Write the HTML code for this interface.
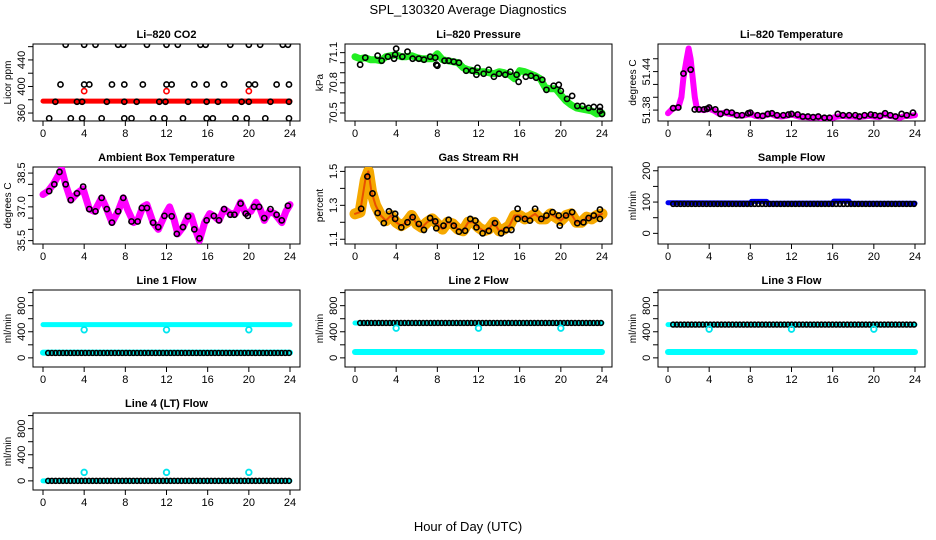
<!DOCTYPE html>
<html><head><meta charset="utf-8">
<style>
html,body{margin:0;padding:0;background:#fff;}
svg{display:block;font-family:"Liberation Sans",Arial,sans-serif;}
</style></head>
<body>
<svg id="chart" width="936" height="540" viewBox="0 0 936 540" xmlns="http://www.w3.org/2000/svg">
<text x="468" y="14" text-anchor="middle" font-size="13">SPL_130320  Average Diagnostics</text>
<text x="468" y="531" text-anchor="middle" font-size="13">Hour of Day (UTC)</text>
</svg>
<script>
// ---- data ----
const xTicks=[0,4,8,12,16,20,24];
// CO2
const co2BandX=[0,24], co2BandY=[378,378];
const co2RedX=[4,12,20], co2RedY=[393,393,393];
const co2X=[2.2,4,5.1,7.3,7.8,10.1,12,13.1,15.3,15.8,18.2,20,21.1,23.3,23.8, 1.7,4,4.5,6.7,7.9,9.7,12,12.5,14.7,15.9,17.6,20,20.6,22.7,23.9, 1.2,3.3,3.8,6.2,7.9,9.1,11.3,11.9,14.1,15.9,17,19.3,20,22.1,23.9, 0.6,2.7,3.8,5.7,7.9,8.6,10.7,11.8,13.6,15.9,16.5,18.7,19.8,21.6,23.9];
const co2Y=[463,463,463,463,463,463,463,463,463,463,463,463,463,463,463, 403,403,403,403,403,403,403,403,403,403,403,403,403,403,403, 377,377,377,377,377,377,377,377,377,377,377,377,377,377,377, 352,352,352,352,352,352,352,352,352,352,352,352,352,352,352];
// Pressure
const presBandX=[0,0.5,1,1.5,2,2.5,3,3.5,4,4.5,5,5.5,6,6.5,7,7.5,8,8.5,9,9.5,10,10.5,11,11.5,12,12.5,13,13.5,14,14.5,15,15.5,16,16.5,17,17.5,18,18.5,19,19.5,20,20.5,21,21.5,22,22.5,23,23.5,24];
const presBandY=[71.06,71.04,71.05,71.03,71.03,71.02,71.06,71.07,71.08,71.06,71.06,71.07,71.05,71.04,71.04,71.04,71.09,71.03,71.02,71.01,71.00,70.95,70.93,70.92,70.91,70.91,70.90,70.89,70.91,70.90,70.88,70.84,70.92,70.91,70.89,70.87,70.84,70.75,70.74,70.74,70.68,70.62,70.58,70.55,70.54,70.53,70.52,70.49,70.50];
const presX=[0.5,1,2.2,2.6,3.2,3.8,3.9,4,4.6,5.1,5.6,6.2,6.7,7.3,7.8,7.9,8,8.7,9.1,9.6,10.1,10.8,11.4,11.8,11.9,12.5,13,13.5,14,14.6,15.1,15.7,15.9,16.6,17.1,17.6,18.2,18.6,19.3,19.8,20,20.6,21.1,21.6,22.1,22.7,23.2,23.8,23.8,24];
const presY=[70.98,71.05,71.07,71.02,71.06,71.04,71.08,71.14,71.06,71.11,71.04,71.04,71.03,71.06,71.05,70.98,70.97,71.02,71.02,71.01,71.00,70.92,70.92,70.88,70.95,70.89,70.93,70.86,70.89,70.88,70.91,70.88,70.81,70.86,70.87,70.85,70.83,70.73,70.77,70.78,70.72,70.64,70.67,70.57,70.57,70.55,70.56,70.56,70.52,70.49];
// Li-820 temperature
const tempBandX=[0,0.5,1,1.3,1.5,1.8,2,2.2,2.4,2.6,2.8,3,3.5,4,4.5,5,5.5,6,6.5,7,7.5,8,8.5,9,9.5,10,10.5,11,11.5,12,12.5,13,13.5,14,14.5,15,15.5,16,16.5,17,17.5,18,18.5,19,19.5,20,20.5,21,21.5,22,22.5,23,23.5,24];
const tempBandY=[51.375,51.383,51.384,51.40,51.43,51.458,51.476,51.46,51.43,51.40,51.383,51.381,51.380,51.382,51.379,51.374,51.376,51.374,51.373,51.371,51.372,51.374,51.371,51.370,51.372,51.374,51.371,51.370,51.371,51.373,51.371,51.369,51.369,51.368,51.369,51.367,51.367,51.368,51.370,51.371,51.370,51.370,51.369,51.370,51.371,51.370,51.369,51.373,51.371,51.370,51.368,51.371,51.371,51.372];
const tempX=[0.5,1,1.5,2.2,2.6,3,3.5,3.8,4,4.6,5.1,5.7,6.2,6.7,7.2,7.8,8,8.7,9.2,9.7,10.1,10.6,11.2,11.7,12,12.6,13.1,13.6,14.1,14.6,15.2,15.7,16.5,17,17.6,18.2,18.6,19.1,19.7,20.1,20.6,21.1,21.6,22.1,22.7,23.2,23.8];
const tempY=[51.383,51.384,51.437,51.443,51.381,51.381,51.381,51.382,51.384,51.381,51.374,51.377,51.376,51.372,51.372,51.375,51.376,51.372,51.371,51.374,51.375,51.372,51.372,51.373,51.374,51.373,51.370,51.370,51.369,51.370,51.368,51.368,51.374,51.372,51.372,51.372,51.370,51.372,51.373,51.372,51.371,51.375,51.372,51.370,51.374,51.372,51.376];
// Ambient box temperature
const ambBandX=[0,0.5,1,1.5,1.8,2.2,2.7,3.3,3.9,4.5,5,5.7,6.2,6.7,7.3,7.8,8.2,8.8,9.2,9.7,10.1,10.7,11.2,11.8,12.3,12.7,13.1,13.6,14.1,14.4,14.8,15.2,15.7,16.2,16.6,17.1,17.6,18.2,18.7,19.2,19.7,20.2,20.7,21.1,21.5,22,22.5,23.2,23.6,24];
const ambBandY=[37.55,37.7,38.0,38.4,38.7,38.0,37.3,37.6,37.8,36.9,36.8,37.4,36.9,36.3,36.8,37.4,36.9,36.3,36.4,37.0,37.1,36.3,36.0,36.6,37.0,36.5,35.8,36.1,36.6,36.6,36.0,35.5,36.3,36.7,36.6,36.4,36.9,36.7,36.7,37.2,36.7,36.8,37.2,36.9,36.4,36.8,36.7,36.3,36.8,37.1];
const ambX=[0.6,1.1,1.6,2.2,2.7,3.3,3.9,4.5,5.1,5.7,6.2,6.7,7.3,7.8,8.6,9.2,9.6,10.1,10.7,11.2,11.8,12.5,13,13.6,14.1,14.7,15.2,15.9,16.6,17.1,17.6,18.2,18.6,19.2,19.7,19.9,20.5,21,21.5,22.1,22.7,23.2,23.8];
const ambY=[37.7,38.0,38.55,38.0,37.3,37.6,37.9,36.9,36.8,37.4,36.9,36.3,36.8,37.4,36.35,36.35,36.95,36.95,36.3,36.1,36.6,36.58,35.8,36.1,36.58,36.0,35.6,36.4,36.6,36.4,36.9,36.65,36.65,37.15,36.7,36.6,37.0,37.0,36.5,36.9,36.65,36.4,37.05];
// Gas stream RH
const rhBandX=[0,0.5,1,1.3,1.6,2,2.5,3,3.5,4,4.5,5,5.5,6,6.5,7,7.5,8,8.5,9,9.5,10,10.5,11,11.5,12,12.5,13,13.5,14,14.5,15,15.5,16,16.5,17,17.5,18,18.5,19,19.5,20,20.5,21,21.5,22,22.5,23,23.5,24];
const rhBandY=[1.25,1.26,1.45,1.5,1.38,1.3,1.24,1.21,1.24,1.2,1.18,1.2,1.24,1.19,1.17,1.2,1.22,1.19,1.16,1.2,1.19,1.16,1.15,1.2,1.2,1.17,1.15,1.16,1.2,1.15,1.16,1.18,1.24,1.24,1.22,1.23,1.25,1.22,1.22,1.25,1.23,1.21,1.24,1.25,1.2,1.2,1.23,1.22,1.24,1.25];
const rhX=[0.6,1.2,1.7,2.2,2.8,3.3,3.9,3.9,4.5,5.1,5.6,6.2,6.7,7.3,7.8,7.9,8.6,9.1,9.6,10.1,10.7,11.2,11.7,11.8,12.4,13,13.6,14.2,14.7,15.2,15.8,15.8,16.5,17,17.5,18.1,18.6,19.2,19.8,19.9,20.5,21.1,21.6,22.2,22.7,23.2,23.8,23.8];
const rhY=[1.28,1.47,1.37,1.255,1.195,1.265,1.25,1.22,1.17,1.2,1.23,1.19,1.155,1.225,1.205,1.165,1.18,1.215,1.18,1.145,1.15,1.22,1.21,1.17,1.135,1.15,1.195,1.135,1.155,1.155,1.28,1.22,1.22,1.21,1.28,1.22,1.24,1.26,1.24,1.18,1.24,1.26,1.195,1.2,1.225,1.24,1.275,1.22];
// Sample flow
const sfBandX=[0,8,8.1,9.6,9.7,16,16.1,17.6,17.7,24];
const sfBandY=[98,97,102,102,96,97,103,103,96,96];
const sfLevel=[94];
// Line flows: black circle times (every ~20 min)
const flowT=[0.5,0.86,1.22,1.58,1.94,2.3,2.66,3.02,3.38,3.74,4.1,4.46,4.82,5.18,5.54,5.9,6.26,6.62,6.98,7.34,7.7,8.06,8.42,8.78,9.14,9.5,9.86,10.22,10.58,10.94,11.3,11.66,12.02,12.38,12.74,13.1,13.46,13.82,14.18,14.54,14.9,15.26,15.62,15.98,16.34,16.7,17.06,17.42,17.78,18.14,18.5,18.86,19.22,19.58,19.94,20.3,20.66,21.02,21.38,21.74,22.1,22.46,22.82,23.18,23.54,23.9];
const dipX=[4,12,20];
const line1Black=[75], line1High=[510], line1Low=[80], line1Dip=[430,430,430];
const line2Black=[535], line2High=[535], line2Low=[90], line2Dip=[455,455,455];
const line3Black=[510], line3High=[510], line3Low=[90], line3Dip=[440,440,440];
const line4Black=[0], line4High=[0], line4Dip=[130,130,130];

// ---- drawing ----
const svg=document.getElementById('chart');
const NS='http://www.w3.org/2000/svg';
const colLeft=[33,345,658], rowTop=[44,167,290,413], W=267, H=77;
function mk(tag,attrs,parent){const e=document.createElementNS(NS,tag);for(const k in attrs)e.setAttribute(k,attrs[k]);(parent||svg).appendChild(e);return e;}
function panel(name,col,row,title,ylab,ymin,ymax,minor,major,fmt){
  const g=mk('g',{});
  
  
  const L=colLeft[col],T=rowTop[row];
  const sx=v=>L+10+v/24*(W-20);
  const sy=v=>T+H-(v-ymin)/(ymax-ymin)*H;
  const t=mk('text',{x:L+W/2,y:T-6,'text-anchor':'middle','font-size':11,'font-weight':'bold'},g);
  t.textContent=title;
  
  
  const box=mk('rect',{x:L,y:T,width:W,height:H,fill:'none',stroke:'#000','stroke-width':1},g);
  
  
  const xa=mk('g',{},g);
  
  
  mk('line',{x1:sx(0),x2:sx(24),y1:T+H,y2:T+H,stroke:'#000'},xa);
  xTicks.forEach(v=>{mk('line',{x1:sx(v),x2:sx(v),y1:T+H,y2:T+H+5,stroke:'#000'},xa);
    const tx=mk('text',{x:sx(v),y:T+H+16,'text-anchor':'middle','font-size':11},xa);tx.textContent=v;});
  const ya=mk('g',{},g);
  
  
  minor.forEach(v=>mk('line',{x1:L-5,x2:L,y1:sy(v),y2:sy(v),stroke:'#000'},ya));
  major.forEach(v=>{const tx=mk('text',{x:0,y:0,'text-anchor':'middle','font-size':11,transform:`translate(${L-8},${sy(v)}) rotate(-90)`},ya);tx.textContent=fmt?fmt(v):v;});
  const yl=mk('text',{x:0,y:0,'text-anchor':'middle','font-size':10,transform:`translate(${L-22},${T+H/2}) rotate(-90)`},g);
  yl.textContent=ylab;
  
  
  const cp='cp'+name;
  const c=mk('clipPath',{id:cp},g);mk('rect',{x:L,y:T,width:W,height:H},c);
  const d=mk('g',{'clip-path':`url(#${cp})`},g);
  return {sx,sy,d};
}
function band(p,xs,ys,color,w,name){
  const pts=xs.map((x,i)=>p.sx(x).toFixed(1)+','+p.sy(ys[i]).toFixed(1)).join(' ');
  const e=mk('polyline',{points:pts,fill:'none',stroke:color,'stroke-width':w,'stroke-linejoin':'round','stroke-linecap':'round'},p.d);
  
  
}
function pts(p,xs,ys,color,name,r,sw){
  const g=mk('g',{},p.d);
  
  
  xs.forEach((x,i)=>mk('circle',{cx:p.sx(x),cy:p.sy(ys[i]),r:r||2.6,fill:'none',stroke:color,'stroke-width':sw||1.6},g));
}
const f1=v=>v.toFixed(1), f2=v=>v.toFixed(2);
// CO2
let p=panel('co2',0,0,'Li\u2013820 CO2','Licor ppm',348,464,[360,380,400,420,440,460],[360,400,440]);
band(p,co2BandX,co2BandY,'#ff0000',5,'co2-red-band');
pts(p,co2RedX,co2RedY,'#ff0000','co2-red-points');
pts(p,co2X,co2Y,'#000','co2-black-points');
// Pressure
p=panel('pressure',1,0,'Li\u2013820 Pressure','kPa',70.42,71.186,[70.5,70.6,70.7,70.8,70.9,71.0,71.1],[70.5,70.8,71.1],f1);
band(p,presBandX,presBandY,'#22ee22',7,'pressure-green-band');
pts(p,presX,presY,'#000','pressure-black-points');
// Temp
p=panel('li820-temp',2,0,'Li\u2013820 Temperature','degrees C',51.363,51.483,[51.38,51.40,51.42,51.44,51.46],[51.38,51.44],f2);
band(p,tempBandX,tempBandY,'#ff00ff',6,'temp-magenta-band');
pts(p,tempX,tempY,'#000','temp-black-points');
// Ambient
p=panel('ambient',0,1,'Ambient Box Temperature','degrees C',35.35,38.77,[35.5,36,36.5,37,37.5,38,38.5],[35.5,37.0,38.5],f1);
band(p,ambBandX,ambBandY,'#ff00ff',7,'ambient-magenta-band');
pts(p,ambX,ambY,'#000','ambient-black-points');
// RH
p=panel('rh',1,1,'Gas Stream RH','percent',1.072,1.526,[1.1,1.2,1.3,1.4,1.5],[1.1,1.3,1.5],f1);
band(p,rhBandX,rhBandY,'#f5a800',11,'rh-orange-band');
band(p,rhBandX,rhBandY,'#e85000',2,'rh-red-speckle');
pts(p,rhX,rhY,'#000','rh-black-points');
// Sample flow
p=panel('sample-flow',2,1,'Sample Flow','ml/min',-34,212,[0,50,100,150,200],[0,100,200]);
band(p,sfBandX,sfBandY,'#0000ee',5,'sample-flow-blue-band');
pts(p,flowT,flowT.map(()=>sfLevel[0]),'#000','sample-flow-black-points',2.4);
// Line flows
const fticks=[0,200,400,600,800,1000], flab=[0,400,800];
function flowPanel(name,col,row,title,black,high,low,dip){
  const q=panel(name,col,row,title,'ml/min',-140,1040,fticks,flab);
  band(q,[0,24],[high[0],high[0]],'#00ffff',5,name+'-cyan-band');
  if(low) band(q,[0,24],[low[0],low[0]],'#00ffff',6,name+'-cyan-low-band');
  pts(q,flowT,flowT.map(()=>black[0]),'#000',name+'-black-points',2.4);
  pts(q,dipX,dip,'#00e5ee',name+'-cyan-points',2.8,1.8);
}
flowPanel('line1-flow',0,2,'Line 1 Flow',line1Black,line1High,line1Low,line1Dip);
flowPanel('line2-flow',1,2,'Line 2 Flow',line2Black,line2High,line2Low,line2Dip);
flowPanel('line3-flow',2,2,'Line 3 Flow',line3Black,line3High,line3Low,line3Dip);
flowPanel('line4-flow',0,3,'Line 4 (LT) Flow',line4Black,line4High,null,line4Dip);
</script>
</body></html>
